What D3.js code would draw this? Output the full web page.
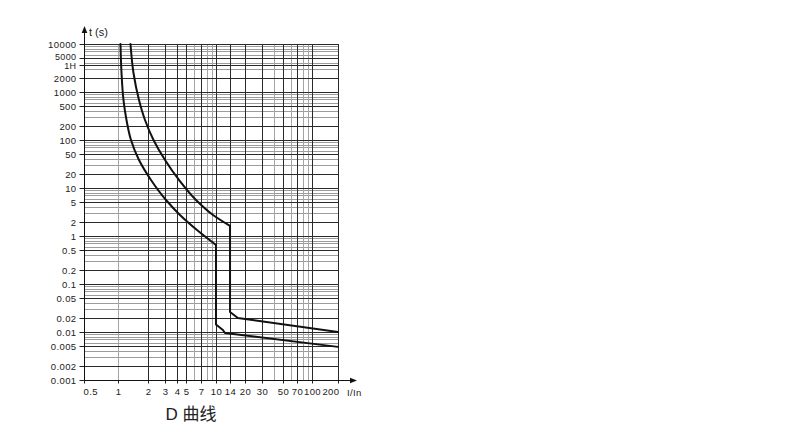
<!DOCTYPE html>
<html><head><meta charset="utf-8">
<script src="https://cdn.jsdelivr.net/npm/d3@7"></script>
<style>body{margin:0;background:#fff}svg{display:block}</style>
</head><body>
<svg id="c" width="790" height="441"></svg>
<script>
// ---- data ----
const yTickValues = [10000,5000,3600,2000,1000,500,200,100,50,20,10,5,2,1,0.5,0.2,0.1,0.05,0.02,0.01,0.005,0.002,0.001];
const yTickLabels = ["10000","5000","1H","2000","1000","500","200","100","50","20","10","5","2","1","0.5","0.2","0.1","0.05","0.02","0.01","0.005","0.002","0.001"];
const xTickValues = [0.5,1,2,3,4,5,7,10,14,20,30,50,70,100,200];
const xTickLabels = ["0.5","1","2","3","4","5","7","10","14","20","30","50","70","100","200"];
const xGridValues = [1,2,3,4,5,6,7,8,9,10,14,20,30,40,50,60,70,80,90,100,200];
const yGridMultipliers = [1,2,3,4,5,6,7,8,9];
const yGridDecades = [0.001,0.01,0.1,1,10,100,1000];

// lower bound curve (thermal part, then magnetic part)
const lowerThermalI = [1.060,1.086,1.138,1.221,1.357,1.638,2.171,3.09,4.29,6.40,10];
const lowerThermalT = [10000,2489,681,261,100,38.3,14.7,5.62,2.74,1.33,0.649];
const lowerMagI = [10,10,11.8,12.4,200];
const lowerMagT = [0.649,0.0143,0.011,0.00953,0.0049];
// upper bound curve
const upperThermalI = [1.341,1.439,1.638,1.886,2.303,3.02,4.19,6.25,9.32,14];
const upperThermalT = [10000,2489,681,261,100,38.3,14.7,5.62,2.74,1.62];
const upperMagI = [14,14,16.9,200];
const upperMagT = [1.62,0.0261,0.0196,0.01];

// ---- drawing ----
const svg = d3.select('#c');
svg.append('rect').attr('width',790).attr('height',441).attr('fill','#fff');
const x = d3.scaleLog().domain([0.5,1,10,100,200]).range([84,118,216,312,338]);
const y = d3.scaleLog().domain([0.001,10000]).range([380,44]);
const X0 = x(0.5), X1 = x(200), Y0 = y(0.001), Y1 = y(10000);
const px = v => Math.round(v) + 0.5;

// grid
const hGrid = [];
yGridDecades.forEach(d => yGridMultipliers.forEach(m => hGrid.push(+(m*d).toPrecision(3))));
hGrid.push(3600, 10000);
const isYLab = v => yTickValues.some(t => Math.abs(t - v) / v < 1e-6);
const isXLab = v => v !== 1 && xTickValues.some(t => Math.abs(t - v) / v < 1e-6);
const grid = svg.append('g');
const hLight = hGrid.filter(v => !isYLab(v) && v > 0.001);
const hDark = hGrid.filter(v => isYLab(v) && v > 0.001);
const vLight = xGridValues.filter(v => !isXLab(v));
const vDark = xGridValues.filter(v => isXLab(v));
grid.selectAll('line.hl').data(hLight).join('line').attr('class','hl')
  .attr('x1',X0).attr('x2',X1).attr('y1',d=>px(y(d))).attr('y2',d=>px(y(d)))
  .attr('stroke','#9c9c9c').attr('stroke-width',1);
grid.selectAll('line.vl').data(vLight).join('line').attr('class','vl')
  .attr('y1',Y0).attr('y2',Y1).attr('x1',d=>px(x(d))).attr('x2',d=>px(x(d)))
  .attr('stroke','#a4a4a4').attr('stroke-width',1);
grid.selectAll('line.hd').data(hDark).join('line').attr('class','hd')
  .attr('x1',X0).attr('x2',X1).attr('y1',d=>px(y(d))).attr('y2',d=>px(y(d)))
  .attr('stroke','#2a2a2a').attr('stroke-width',1);
grid.selectAll('line.vd').data(vDark).join('line').attr('class','vd')
  .attr('y1',Y0).attr('y2',Y1).attr('x1',d=>px(x(d))).attr('x2',d=>px(x(d)))
  .attr('stroke','#2a2a2a').attr('stroke-width',1);

// axes
const font = '"Liberation Sans", Arial, sans-serif';
const ya = svg.append('g').attr('transform',`translate(${px(X0)},0)`)
  .call(d3.axisLeft(y).tickValues(yTickValues).tickFormat((d,i)=>yTickLabels[i]).tickSize(5).tickPadding(3));
ya.select('.domain').remove();
ya.selectAll('.tick line').attr('stroke','#222');
ya.selectAll('text').attr('font-family',font).attr('font-size','9.5px').attr('letter-spacing','0.4px').attr('fill','#222');
ya.selectAll('.tick').attr('transform', d => `translate(0,${px(y(d))})`);
ya.selectAll('.tick').filter(d => d === 5000).select('text').attr('y',-1.5).attr('font-size','9px');
ya.selectAll('.tick').filter(d => d === 3600).select('text').attr('y',1).attr('font-size','9px');

const xa = svg.append('g').attr('transform',`translate(0,${px(Y0)})`)
  .call(d3.axisBottom(x).tickValues(xTickValues).tickFormat((d,i)=>xTickLabels[i]).tickSize(3).tickPadding(5));
xa.select('.domain').remove();
xa.selectAll('.tick line').attr('stroke','#222');
xa.selectAll('text').attr('font-family',font).attr('font-size','9.5px').attr('letter-spacing','0.4px').attr('fill','#222');
xa.selectAll('.tick').attr('transform', d => `translate(${px(x(d))},0)`);
xa.selectAll('.tick').filter(d => d === 200).select('text').attr('text-anchor','end').attr('x',1);
xa.selectAll('.tick').filter(d => d === 0.5).select('text').attr('text-anchor','start').attr('x',-1);

// axis lines + arrows
svg.append('line').attr('x1',px(X0)).attr('x2',px(X0)).attr('y1',px(Y0)).attr('y2',30).attr('stroke','#111');
svg.append('path').attr('d',`M${px(X0)},26 L${px(X0)-2.8},33 L${px(X0)+2.8},33 Z`).attr('fill','#111');
svg.append('line').attr('x1',px(X0)).attr('x2',352).attr('y1',px(Y0)).attr('y2',px(Y0)).attr('stroke','#111');
svg.append('path').attr('d',`M357,${px(Y0)} L350,${px(Y0)-2.8} L350,${px(Y0)+2.8} Z`).attr('fill','#111');

svg.append('text').attr('x',89).attr('y',36).text('t (s)')
  .attr('font-family',font).attr('font-size','11px').attr('fill','#222');
svg.append('text').attr('x',347).attr('y',px(Y0)+15).text('I/In')
  .attr('font-family',font).attr('font-size','9.5px').attr('letter-spacing','0.4px').attr('fill','#222');
svg.append('text').attr('x',191).attr('y',420).attr('text-anchor','middle').text('D 曲线')
  .attr('font-family','"Liberation Sans", "Noto Sans CJK SC", sans-serif').attr('font-size','17px').attr('fill','#222');

// curves
const smooth = d3.line().x(d=>x(d[0])).y(d=>y(d[1])).curve(d3.curveMonotoneY);
const straight = d3.line().x(d=>x(d[0])).y(d=>y(d[1]));
const curves = svg.append('g').attr('fill','none').attr('stroke','#111').attr('stroke-width',2)
  .attr('stroke-linejoin','round').attr('stroke-linecap','round');
[[lowerThermalI,lowerThermalT,smooth],[lowerMagI,lowerMagT,straight],
 [upperThermalI,upperThermalT,smooth],[upperMagI,upperMagT,straight]].forEach(([I,T,gen]) => {
  curves.append('path').attr('d', gen(I.map((v,i)=>[v,T[i]])));
});
</script>
</body></html>
